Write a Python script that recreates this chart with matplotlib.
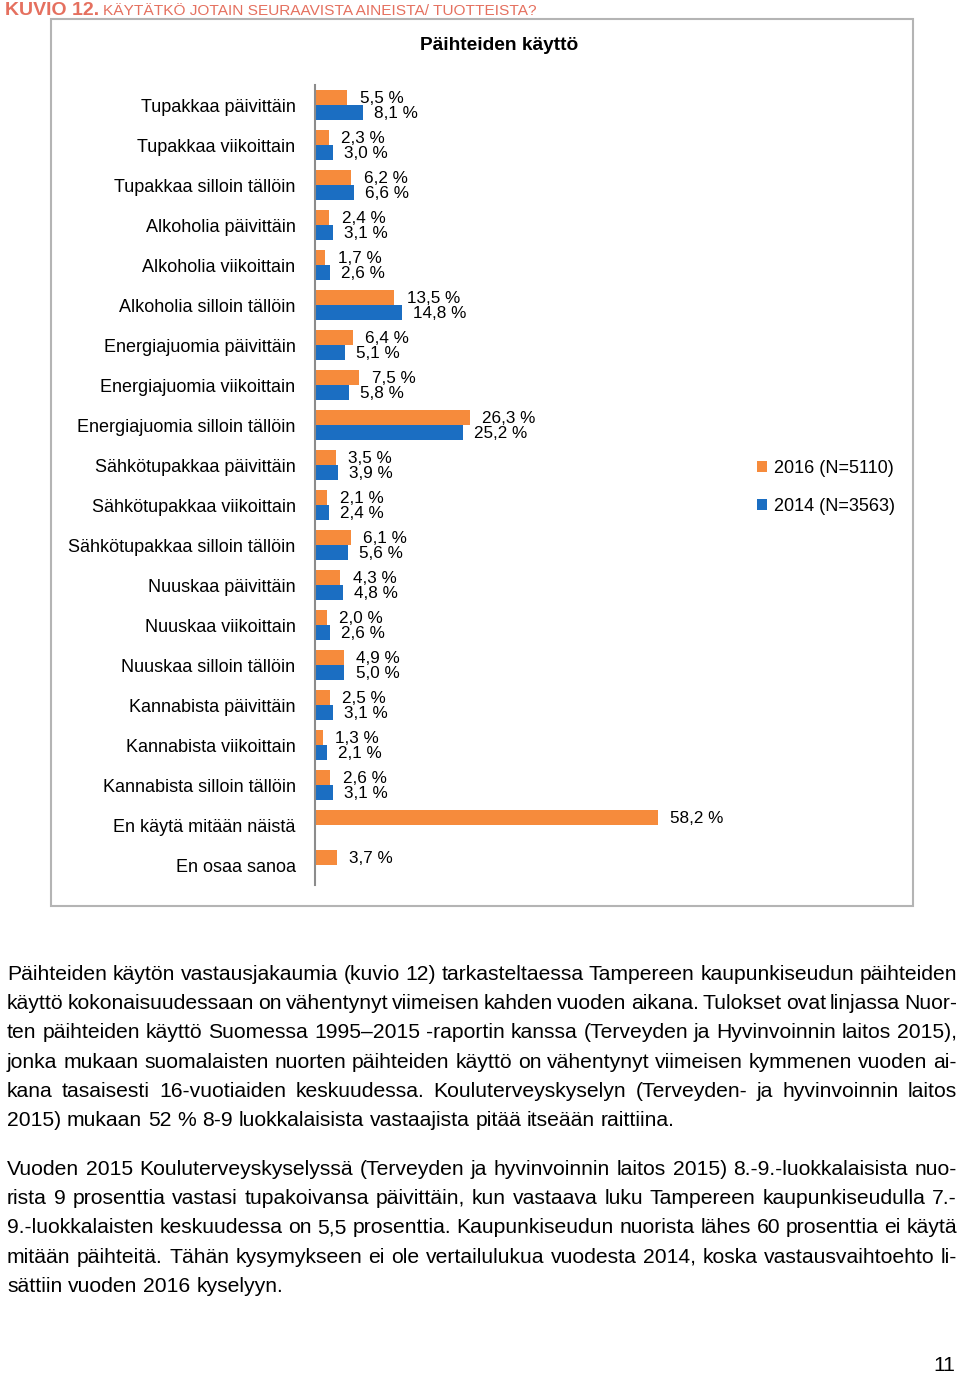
import numpy as np
import matplotlib
matplotlib.use('Agg')
import matplotlib.pyplot as plt
from matplotlib.patches import Rectangle
from matplotlib import font_manager

W, H = 960, 1373

categories = [
    "Tupakkaa päivittäin", "Tupakkaa viikoittain", "Tupakkaa silloin tällöin",
    "Alkoholia päivittäin", "Alkoholia viikoittain", "Alkoholia silloin tällöin",
    "Energiajuomia päivittäin", "Energiajuomia viikoittain", "Energiajuomia silloin tällöin",
    "Sähkötupakkaa päivittäin", "Sähkötupakkaa viikoittain", "Sähkötupakkaa silloin tällöin",
    "Nuuskaa päivittäin", "Nuuskaa viikoittain", "Nuuskaa silloin tällöin",
    "Kannabista päivittäin", "Kannabista viikoittain", "Kannabista silloin tällöin",
    "En käytä mitään näistä", "En osaa sanoa",
]
v2016 = [5.5, 2.3, 6.2, 2.4, 1.7, 13.5, 6.4, 7.5, 26.3, 3.5, 2.1, 6.1, 4.3, 2.0, 4.9, 2.5, 1.3, 2.6, 58.2, 3.7]
v2014 = [8.1, 3.0, 6.6, 3.1, 2.6, 14.8, 5.1, 5.8, 25.2, 3.9, 2.4, 5.6, 4.8, 2.6, 5.0, 3.1, 2.1, 3.1, None, None]
series_names = ["2016 (N=5110)", "2014 (N=3563)"]

title = "Päihteiden käyttö"
header_num = "KUVIO 12."
header_txt = "KÄYTÄTKÖ JOTAIN SEURAAVISTA AINEISTA/ TUOTTEISTA?"

para1 = [
    "Päihteiden käytön vastausjakaumia (kuvio 12) tarkasteltaessa Tampereen kaupunkiseudun päihteiden",
    "käyttö kokonaisuudessaan on vähentynyt viimeisen kahden vuoden aikana. Tulokset ovat linjassa Nuor-",
    "ten päihteiden käyttö Suomessa 1995–2015 -raportin kanssa (Terveyden ja Hyvinvoinnin laitos 2015),",
    "jonka mukaan suomalaisten nuorten päihteiden käyttö on vähentynyt viimeisen kymmenen vuoden ai-",
    "kana tasaisesti 16-vuotiaiden keskuudessa. Kouluterveyskyselyn (Terveyden- ja hyvinvoinnin laitos",
    "2015) mukaan 52 % 8-9 luokkalaisista vastaajista pitää itseään raittiina.",
]
para2 = [
    "Vuoden 2015 Kouluterveyskyselyssä (Terveyden ja hyvinvoinnin laitos 2015) 8.-9.-luokkalaisista nuo-",
    "rista 9 prosenttia vastasi tupakoivansa päivittäin, kun vastaava luku Tampereen kaupunkiseudulla 7.-",
    "9.-luokkalaisten keskuudessa on 5,5 prosenttia. Kaupunkiseudun nuorista lähes 60 prosenttia ei käytä",
    "mitään päihteitä. Tähän kysymykseen ei ole vertailulukua vuodesta 2014, koska vastausvaihtoehto li-",
    "sättiin vuoden 2016 kyselyyn.",
]
page_no = "11"

orange = '#F68B3C'
blue = '#1B6EC2'
red = '#E5705F'

plt.rcParams['font.family'] = ['Liberation Sans', 'DejaVu Sans']

# narrow face for the running text if it is there
try:
    font_manager.findfont(font_manager.FontProperties(family='Liberation Sans Narrow'),
                          fallback_to_default=False)
    body_family = ['Liberation Sans Narrow', 'Liberation Sans']
    body_size = 17
    head_size = 12.5
except Exception:
    body_family = ['Liberation Sans', 'DejaVu Sans']
    body_size = 15.2
    head_size = 11.1

fig = plt.figure(figsize=(W / 100, H / 100), dpi=100)


def fx(px):
    return px / W


def fy(py):
    return 1 - py / H


# frame around the chart
fig.patches.append(Rectangle((fx(51), fy(906)), fx(913) - fx(51), fy(19) - fy(906),
                             transform=fig.transFigure, fill=False,
                             edgecolor='#B4B4B4', lw=1.5))

ax = fig.add_axes([fx(315), fy(885), fx(740) - fx(315), fy(85) - fy(885)])
y = np.arange(len(categories))
b14 = np.array([np.nan if v is None else v for v in v2014])
off = 0.185
bh = 0.36
bars16 = ax.barh(y - off, v2016, height=bh, color=orange, label=series_names[0])
bars14 = ax.barh(y + off, b14, height=bh, color=blue, label=series_names[1])

for i, v in enumerate(v2016):
    ax.annotate(f"{v:.1f}".replace('.', ',') + " %", xy=(v, i - off), xytext=(9, -1),
                textcoords='offset points', va='center', ha='left', fontsize=12.3)
for i, v in enumerate(v2014):
    if v is None:
        continue
    ax.annotate(f"{v:.1f}".replace('.', ',') + " %", xy=(v, i + off), xytext=(8, -1),
                textcoords='offset points', va='center', ha='left', fontsize=12.3)

ax.set_ylim(len(categories) - 0.5, -0.5)
ax.set_xlim(0, 72.2)
ax.set_yticks(y)
ax.set_yticklabels(categories, fontsize=13)
ax.tick_params(axis='y', length=0, pad=14)
ax.set_xticks([])
for s in ['top', 'right', 'bottom']:
    ax.spines[s].set_visible(False)
ax.spines['left'].set_color('#8C8C8C')
ax.spines['left'].set_linewidth(1.5)
ax.patch.set_alpha(0)

fig.legend(handles=[bars16, bars14], loc='upper left',
           bbox_to_anchor=(fx(757), fy(460)), frameon=False, fontsize=13,
           handlelength=0.58, handleheight=0.58, handletextpad=0.35,
           labelspacing=1.15, borderpad=0, borderaxespad=0)

fig.text(fx(499), fy(45), title, ha='center', va='center', fontsize=13.8, fontweight='bold')

fig.text(fx(5), fy(15), header_num, ha='left', va='baseline', fontsize=14,
         fontweight='bold', color=red)
fig.text(fx(103), fy(15), header_txt, ha='left', va='baseline', fontsize=head_size,
         color=red, family=body_family)

renderer = fig.canvas.get_renderer()


def justify(line, base, last=False, x0=7, x1=957):
    words = line.split(' ')
    items = [fig.text(0, fy(base), w, ha='left', va='baseline', fontsize=body_size,
                      family=body_family) for w in words]
    widths = [t.get_window_extent(renderer).width for t in items]
    sp = fig.text(0, 0, 'a a', fontsize=body_size, family=body_family)
    aa = fig.text(0, 0, 'aa', fontsize=body_size, family=body_family)
    space = sp.get_window_extent(renderer).width - aa.get_window_extent(renderer).width
    sp.remove()
    aa.remove()
    if last or len(words) == 1:
        gap = space
    else:
        gap = (x1 - x0 - sum(widths)) / (len(words) - 1)
    x = x0
    for t, wd in zip(items, widths):
        t.set_x(fx(x))
        x += wd + gap


for k, line in enumerate(para1):
    justify(line, 980 + 29.2 * k, last=(k == len(para1) - 1))
for k, line in enumerate(para2):
    justify(line, 1175 + 29.2 * k, last=(k == len(para2) - 1))

fig.text(fx(955), fy(1371), page_no, ha='right', va='baseline', fontsize=body_size,
         family=body_family)

fig.savefig('out.png', dpi=100)
